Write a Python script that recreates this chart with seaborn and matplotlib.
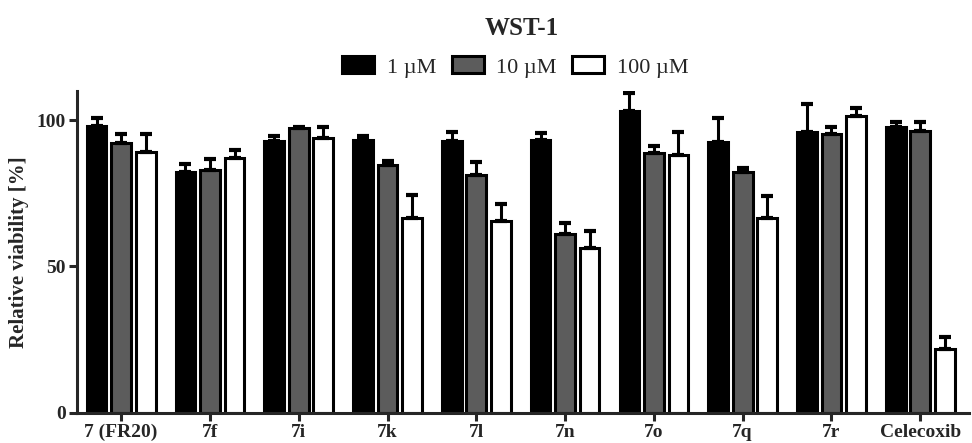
import numpy as np
import pandas as pd
import matplotlib
matplotlib.use("Agg")
import matplotlib.pyplot as plt
import seaborn as sns

# ---- data ----
compounds = ["7 (FR20)", "7f", "7i", "7k", "7l", "7n", "7o", "7q", "7r", "Celecoxib"]
doses = ["1 \u00b5M", "10 \u00b5M", "100 \u00b5M"]

mean_1 = [97.9, 82.3, 92.9, 93.3, 92.9, 93.2, 103.0, 92.4, 96.0, 97.5]
mean_10 = [92.1, 82.9, 97.3, 84.6, 81.3, 61.2, 88.7, 82.2, 95.4, 96.3]
mean_100 = [89.0, 87.0, 93.8, 66.4, 65.4, 56.2, 88.0, 66.7, 101.3, 21.8]

err_1 = [2.8, 2.6, 1.8, 1.2, 3.2, 2.3, 6.2, 8.3, 9.4, 1.9]
err_10 = [3.1, 3.7, 0.5, 1.5, 4.5, 3.5, 2.5, 1.4, 2.4, 3.2]
err_100 = [6.2, 2.8, 3.9, 7.9, 5.8, 5.9, 7.8, 7.3, 2.8, 4.0]

df = pd.DataFrame({
    "compound": compounds * 3,
    "dose": [d for d in doses for _ in compounds],
    "viability": mean_1 + mean_10 + mean_100,
})
errors = [err_1, err_10, err_100]

# ---- plot ----
sns.set_style("ticks")
plt.rcParams["font.family"] = ["Liberation Serif", "DejaVu Serif"]

fig = plt.figure(figsize=(9.72, 4.43), dpi=100)
ax = fig.add_axes([0.079, 0.068, 0.918, 0.727])

colors = ["#000000", "#5c5c5c", "#ffffff"]
sns.barplot(data=df, x="compound", y="viability", hue="dose", order=compounds,
            hue_order=doses, palette=colors, width=0.83, gap=0.2,
            edgecolor="black", linewidth=2.2, saturation=1, ax=ax, legend=True)

# one-sided (upper) error bars
for cont, err in zip(ax.containers, errors):
    xs = [p.get_x() + p.get_width() / 2 for p in cont]
    ys = [p.get_height() for p in cont]
    ax.errorbar(xs, ys, yerr=[np.zeros(len(err)), err], fmt="none",
                ecolor="black", elinewidth=2.2, capsize=4, capthick=3, zorder=1)

ax.set_xlim(-0.5, 9.55)
ax.set_ylim(0, 110)
ax.set_yticks([0, 50, 100])
ax.set_xlabel("")
ax.set_ylabel("Relative viability [%]", fontsize=15, fontweight="bold", labelpad=5)
sns.despine(ax=ax)
for s in ["left", "bottom"]:
    ax.spines[s].set_linewidth(2.2)
ax.tick_params(axis="both", width=2.2, length=6, labelsize=14, pad=2)
for lab in ax.get_xticklabels() + ax.get_yticklabels():
    lab.set_fontweight("bold")

handles, labels = ax.get_legend_handles_labels()
ax.get_legend().remove()
fig.legend(handles, labels, loc="center", bbox_to_anchor=(0.53, 0.849), ncol=3,
           frameon=False, fontsize=16, handlelength=1.45, handleheight=0.8,
           columnspacing=0.7, handletextpad=0.55)

fig.text(0.537, 0.935, "WST-1", ha="center", va="center", fontsize=18, fontweight="bold")

fig.savefig("out.png", dpi=100)
